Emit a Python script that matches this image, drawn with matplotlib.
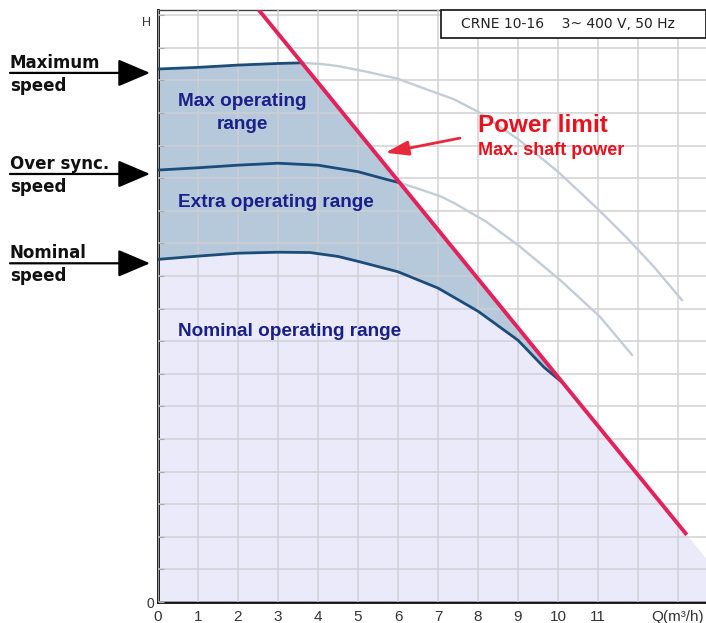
import numpy as np
import matplotlib
matplotlib.use("Agg")
import matplotlib.pyplot as plt
from matplotlib.patches import Rectangle, Polygon

# ---------------- data ----------------
# Maximum speed curve (dark part up to power limit, grey continuation)
max_q = [0.0, 1.0, 2.0, 3.0, 3.6]
max_h = [16.35, 16.40, 16.47, 16.52, 16.54]
max_ext_q = [3.6, 4.1, 4.5, 5.2, 6.0, 6.5, 7.0, 7.4, 8.0, 9.0, 10.0, 11.0, 11.7, 12.4, 13.1]
max_ext_h = [16.54, 16.50, 16.44, 16.27, 16.05, 15.82, 15.60, 15.42, 15.04, 14.20, 13.20, 12.05, 11.20, 10.28, 9.26]

# Over-synchronous speed curve
sync_q = [0.0, 1.0, 2.0, 3.0, 4.0, 5.0, 5.6, 6.04]
sync_h = [13.25, 13.32, 13.40, 13.46, 13.40, 13.20, 13.00, 12.86]
sync_ext_q = [6.04, 6.5, 7.05, 7.4, 8.2, 9.05, 10.05, 11.05, 11.85]
sync_ext_h = [12.86, 12.68, 12.45, 12.24, 11.67, 10.90, 9.88, 8.75, 7.58]

# Nominal speed curve
nom_q = [0.0, 1.0, 2.0, 3.0, 3.8, 4.5, 5.0, 6.0, 7.0, 8.0, 9.0, 9.65, 10.13]
nom_h = [10.51, 10.61, 10.70, 10.73, 10.72, 10.60, 10.45, 10.13, 9.63, 8.92, 8.03, 7.20, 6.71]

# Power limit (max shaft power) line
power_q = [2.52, 13.22]
power_h = [18.16, 2.06]

x_ticks = list(range(0, 14))
x_labels = ['0', '1', '2', '3', '4', '5', '6', '7', '8', '9', '10', '11', '', 'Q(m³/h)']
y_grid = list(range(0, 19))

title_box = "CRNE 10-16    3~ 400 V, 50 Hz"

# ---------------- colours ----------------
c_dark = '#1c4c7a'
c_grey = '#c2cdd8'
c_red = '#e4225a'
c_blue_fill = '#b6c9db'
c_lav_fill = '#eaeafa'
c_text = '#1a1f8a'
c_red_text = '#e8121e'

# ---------------- figure ----------------
W, H = 706, 623
fig = plt.figure(figsize=(W / 100, H / 100), dpi=100)
ax = fig.add_axes([158 / W, (H - 602) / H, (W - 158) / W, (602 - 10) / H])
ax.set_xlim(0, 13.7)
ax.set_ylim(0, 18.16)

# fills
slope = (power_h[1] - power_h[0]) / (power_q[1] - power_q[0])
q_zero = power_q[1] - power_h[1] / slope
lav_pts = list(zip(nom_q, nom_h)) + [(q_zero, 0.0), (0.0, 0.0)]
ax.add_patch(Polygon(lav_pts, closed=True, facecolor=c_lav_fill, edgecolor='none', zorder=0.5))
blue_pts = list(zip(max_q, max_h)) + list(zip(nom_q[::-1], nom_h[::-1]))
ax.add_patch(Polygon(blue_pts, closed=True, facecolor=c_blue_fill, edgecolor='none', zorder=0.6))

# grid
ax.set_xticks(x_ticks)
ax.set_xticklabels(x_labels)
ax.set_yticks(y_grid)
ax.set_yticklabels(['0'] + [''] * (len(y_grid) - 1))
ax.set_axisbelow(False)
ax.grid(True, color='#cfcfd4', lw=1.3, alpha=0.8, zorder=1)
ax.tick_params(axis='x', length=0, pad=6, labelsize=11, labelcolor='#333333')
ax.tick_params(axis='y', direction='in', length=4, color='#aaaaaa', pad=3,
               labelsize=10, labelcolor='#333333')
for lab in ax.get_xticklabels() + ax.get_yticklabels():
    lab.set_fontfamily(['Liberation Sans', 'DejaVu Sans'])

for s in ['left', 'bottom']:
    ax.spines[s].set_color('#111111')
    ax.spines[s].set_linewidth(2.0)
ax.spines['top'].set_color('#444444')
ax.spines['top'].set_linewidth(1.0)
ax.spines['right'].set_visible(False)

# curves
ax.plot(max_ext_q, max_ext_h, color=c_grey, lw=1.7, zorder=3)
ax.plot(sync_ext_q, sync_ext_h, color=c_grey, lw=1.7, zorder=3)
ax.plot(max_q, max_h, color=c_dark, lw=2.0, zorder=4)
ax.plot(sync_q, sync_h, color=c_dark, lw=2.0, zorder=4)
ax.plot(nom_q, nom_h, color=c_dark, lw=2.0, zorder=4)
ax.plot(power_q, power_h, color=c_red, lw=2.8, zorder=5, solid_capstyle='butt')

# box with pump type
ax.add_patch(Rectangle((7.08, 17.3), 13.7 - 7.08, 18.16 - 17.3, facecolor='white',
                       edgecolor='#222222', lw=1.3, zorder=6, clip_on=False))
ax.text(7.58, 17.73, title_box, fontsize=10, family='DejaVu Sans', color='#222222',
        va='center', ha='left', zorder=7)

# region labels
bold_arial = ['Liberation Sans', 'DejaVu Sans']
ax.text(2.1, 15.2, 'Max operating', fontsize=13.7, fontweight='bold', family=bold_arial,
        color=c_text, ha='center', va='baseline', zorder=7)
ax.text(2.1, 14.5, 'range', fontsize=13.7, fontweight='bold', family=bold_arial,
        color=c_text, ha='center', va='baseline', zorder=7)
ax.text(0.5, 12.12, 'Extra operating range', fontsize=13.7, fontweight='bold', family=bold_arial,
        color=c_text, ha='left', va='baseline', zorder=7)
ax.text(0.5, 8.16, 'Nominal operating range', fontsize=13.7, fontweight='bold', family=bold_arial,
        color=c_text, ha='left', va='baseline', zorder=7)

# power limit label + arrow
ax.text(8.0, 14.42, 'Power limit', fontsize=17.5, fontweight='bold', family=bold_arial,
        color=c_red_text, ha='left', va='baseline', zorder=7)
ax.text(8.0, 13.71, 'Max. shaft power', fontsize=13, fontweight='bold', family=bold_arial,
        color=c_red_text, ha='left', va='baseline', zorder=7)
ax.annotate('', xy=(5.68, 13.78), xytext=(7.55, 14.23),
            arrowprops=dict(arrowstyle='-|>,head_length=0.7,head_width=0.22', color='#e8283c',
                            lw=2.0, mutation_scale=20, shrinkA=0, shrinkB=0), zorder=7)

# H label
ax.text(-0.28, 17.76, 'H', fontsize=9, family=bold_arial, color='#333333',
        ha='center', va='center', clip_on=False)

# speed labels with arrows on the left
speed_labels = [('Maximum', max_h[0]), ('Over sync.', sync_h[0]), ('Nominal', nom_h[0])]
for name, h0 in speed_labels:
    ya = h0 - 0.12
    ax.annotate('', xy=(-0.2, ya), xytext=(-3.7, ya), annotation_clip=False,
                arrowprops=dict(arrowstyle='-|>,head_length=0.4,head_width=0.17',
                                color='black', lw=1.6, mutation_scale=50,
                                shrinkA=0, shrinkB=0))
    ax.text(-3.7, ya + 0.16, name, fontsize=12, fontweight='bold', family='DejaVu Sans',
            color='#111111', ha='left', va='baseline', clip_on=False)
    ax.text(-3.7, ya - 0.55, 'speed', fontsize=12, fontweight='bold', family='DejaVu Sans',
            color='#111111', ha='left', va='baseline', clip_on=False)

fig.savefig('out.png', dpi=100)
